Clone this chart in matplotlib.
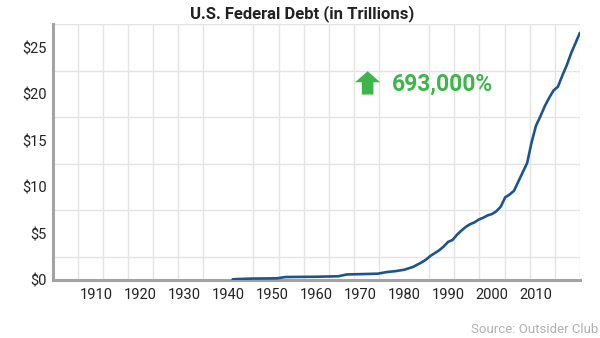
import numpy as np
import matplotlib
matplotlib.use("Agg")
import matplotlib.pyplot as plt
from matplotlib.patches import FancyArrow

# federal debt, trillions of dollars
years = [1941, 1945, 1951, 1953, 1960, 1965, 1967, 1970, 1974, 1976, 1978,
         1980, 1982, 1984, 1985, 1986, 1987, 1988, 1989, 1990, 1991, 1992,
         1993, 1994, 1995, 1996, 1997, 1998, 1999, 2000, 2001, 2002, 2003,
         2004, 2005, 2006, 2007, 2008, 2009, 2010, 2011, 2012, 2013, 2014,
         2015, 2016, 2017, 2018, 2019, 2020]
debt = [0.08, 0.15, 0.18, 0.32, 0.35, 0.40, 0.60, 0.63, 0.68, 0.85, 0.95,
        1.1, 1.4, 1.9, 2.2, 2.6, 2.9, 3.2, 3.6, 4.1, 4.3, 4.85,
        5.3, 5.7, 6.0, 6.2, 6.5, 6.7, 6.95, 7.1, 7.4, 7.9, 8.9,
        9.2, 9.6, 10.6, 11.6, 12.6, 14.8, 16.6, 17.6, 18.7, 19.6, 20.4,
        20.8, 22.0, 23.1, 24.4, 25.5, 26.6]
xtick_years = [1910, 1920, 1930, 1940, 1950, 1960, 1970, 1980, 1990, 2000, 2010]
ytick_vals = [0, 5, 10, 15, 20, 25]
growth_label = "693,000%"

plt.rcParams['font.family'] = ['Roboto', 'DejaVu Sans']

fig = plt.figure(figsize=(6, 3.38), dpi=100)
ax = fig.add_axes([0.0875, 0.1716, 0.879, 0.756])

ax.plot(years, debt, color="#1d5490", lw=1.9, solid_capstyle="round", zorder=3)

ax.set_xlim(1900, 2020)
ax.set_ylim(0, 27.5)

ax.set_xticks(xtick_years)
ax.set_xticklabels([str(y) for y in xtick_years])
ax.set_xticks(np.linspace(1900, 2020, 22), minor=True)
ax.set_yticks(ytick_vals)
ax.set_yticklabels([f"${v}" for v in ytick_vals])
ax.set_yticks(np.arange(0, 27.6, 2.5), minor=True)

ax.grid(which="minor", color="#e4e4e4", lw=1)
ax.grid(which="major", visible=False)
ax.tick_params(which="both", length=0)
ax.tick_params(axis="x", pad=6, labelsize=10.5, labelcolor="#222222")
ax.tick_params(axis="y", pad=4, labelsize=10.5, labelcolor="#222222")

for side in ("top", "right"):
    ax.spines[side].set_visible(False)
for side in ("left", "bottom"):
    ax.spines[side].set_color("#a3a3a3")
    ax.spines[side].set_linewidth(2.2)

ax.add_patch(FancyArrow(1971.7, 19.96, 0, 2.51, width=2.64, head_width=5.7,
                        head_length=1.19, length_includes_head=True,
                        color="#3db54a", lw=0, zorder=4))
ax.text(1977.3, 21.1, growth_label, color="#3db54a", fontsize=16.5,
        fontweight="bold", va="center", ha="left", zorder=4)

fig.text(0.503, 0.96, "U.S. Federal Debt (in Trillions)", ha="center",
         va="center", fontsize=12, fontweight="bold", color="#222222")
fig.text(0.997, 0.024, "Source: Outsider Club", ha="right", va="center",
         fontsize=9.5, color="#b0b0b0")

fig.savefig("out.png", dpi=100)
